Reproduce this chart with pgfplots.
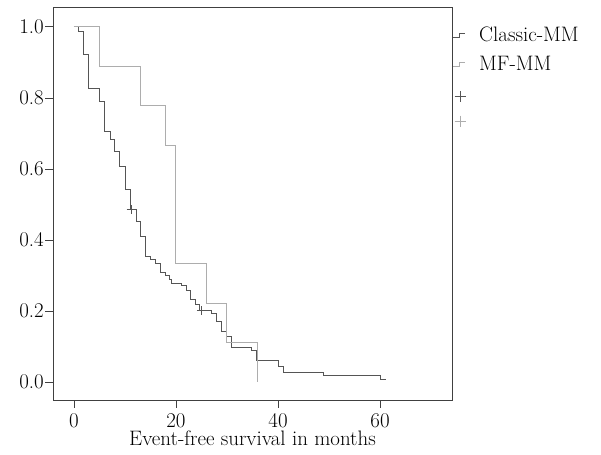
\documentclass[border=0pt]{standalone}
\usepackage{fontspec}
\setmainfont{Latin Modern Roman}
\usepackage{pgfplots}
\pgfplotsset{compat=1.18}
\definecolor{darkline}{HTML}{555555}
\definecolor{lightline}{HTML}{ADADAD}
\definecolor{axcol}{HTML}{404040}
\pgfplotsset{steplegend/.style={legend image code/.code={\draw[##1] (1bp,-2.5bp) -- (7bp,-2.5bp) -- (7bp,1bp) -- (13bp,1bp); \path[draw=none] (0bp,0bp) -- (27bp,0bp);}},
  crosslegend/.style={legend image code/.code={\begin{pgfinterruptboundingbox}\draw[##1,mark size=5.5bp] plot coordinates {(8bp,-9bp)};\end{pgfinterruptboundingbox} \path[draw=none] (0bp,-8.3bp) rectangle (27bp,3bp);}}}
\begin{document}
\begin{tikzpicture}
\begin{axis}[
  name=ax,
  scale only axis,
  width=399bp, height=393bp,
  xmin=-4.1, xmax=74.1,
  ymin=-0.05, ymax=1.056,
  xtick={0,20,40,60},
  ytick={0,0.2,0.4,0.6,0.8,1.0},
  /pgf/number format/assume math mode=true,
  yticklabel style={/pgf/number format/fixed, /pgf/number format/fixed zerofill, /pgf/number format/precision=1, /pgf/number format/assume math mode=true, inner xsep=1.5bp},
  tick align=outside,
  xtick pos=bottom, ytick pos=left,
  major tick length=7.5bp,
  tick style={axcol, line width=0.8pt},
  axis line style={axcol, line width=0.8pt},
  tick label style={font=\fontsize{21}{24}\selectfont},
  xticklabel style={inner ysep=0pt, yshift=-5.5bp},
  label style={font=\fontsize{21}{24}\selectfont},
  xlabel={Event-free survival in months},
  xlabel style={at={(axis description cs:0.5,0)}, anchor=base, inner sep=0pt, yshift=-45bp},
  legend style={at={(1,0.95)}, anchor=north west, draw=none, fill=none,
    font=\fontsize{21}{24}\selectfont, inner xsep=0pt, inner ysep=0pt, row sep=13bp,
    nodes={inner sep=0pt}},
  legend cell align=left,
]
\addplot[const plot, darkline, line width=1pt, steplegend]
coordinates {
(0,1) (0.9,0.986) (1.9,0.921) (2.9,0.828) (5.1,0.789) (5.9,0.707)
(7.1,0.682) (8.0,0.649) (9.0,0.608) (10.1,0.543) (11.1,0.485)
(12.2,0.452) (13.1,0.409) (14.1,0.353) (15.0,0.346) (16.0,0.334)
(17.0,0.310) (18.0,0.299) (18.8,0.289) (19.2,0.278) (21.0,0.273)
(22.0,0.257) (22.9,0.233) (23.9,0.220) (24.7,0.201) (27.0,0.194)
(28.0,0.170) (29.0,0.144) (29.9,0.130) (30.9,0.099) (34.9,0.088)
(35.8,0.062) (40.1,0.045) (41.0,0.027) (49.0,0.018) (60.0,0.008)
(61.1,0.008)
};
\addlegendentry{Classic-MM}
\addplot[const plot, lightline, line width=1pt, steplegend]
coordinates {
(0,1) (5,0.889) (13,0.778) (18,0.667) (20,0.333) (26,0.222) (30,0.111) (36,0)
};
\addlegendentry{MF-MM}
\addplot[only marks, mark=+, mark size=4.5bp, darkline, line width=0.8pt, crosslegend]
coordinates {(11.2,0.485) (25.0,0.201)};
\addlegendentry{}
\addlegendimage{only marks, mark=+, lightline, line width=0.8pt, crosslegend}
\addlegendentry{}
\end{axis}
\pgfresetboundingbox
\path[use as bounding box] ([shift={(-53bp,-55bp)}]ax.south west) rectangle ([shift={(149bp,7bp)}]ax.north east);
\end{tikzpicture}
\end{document}
